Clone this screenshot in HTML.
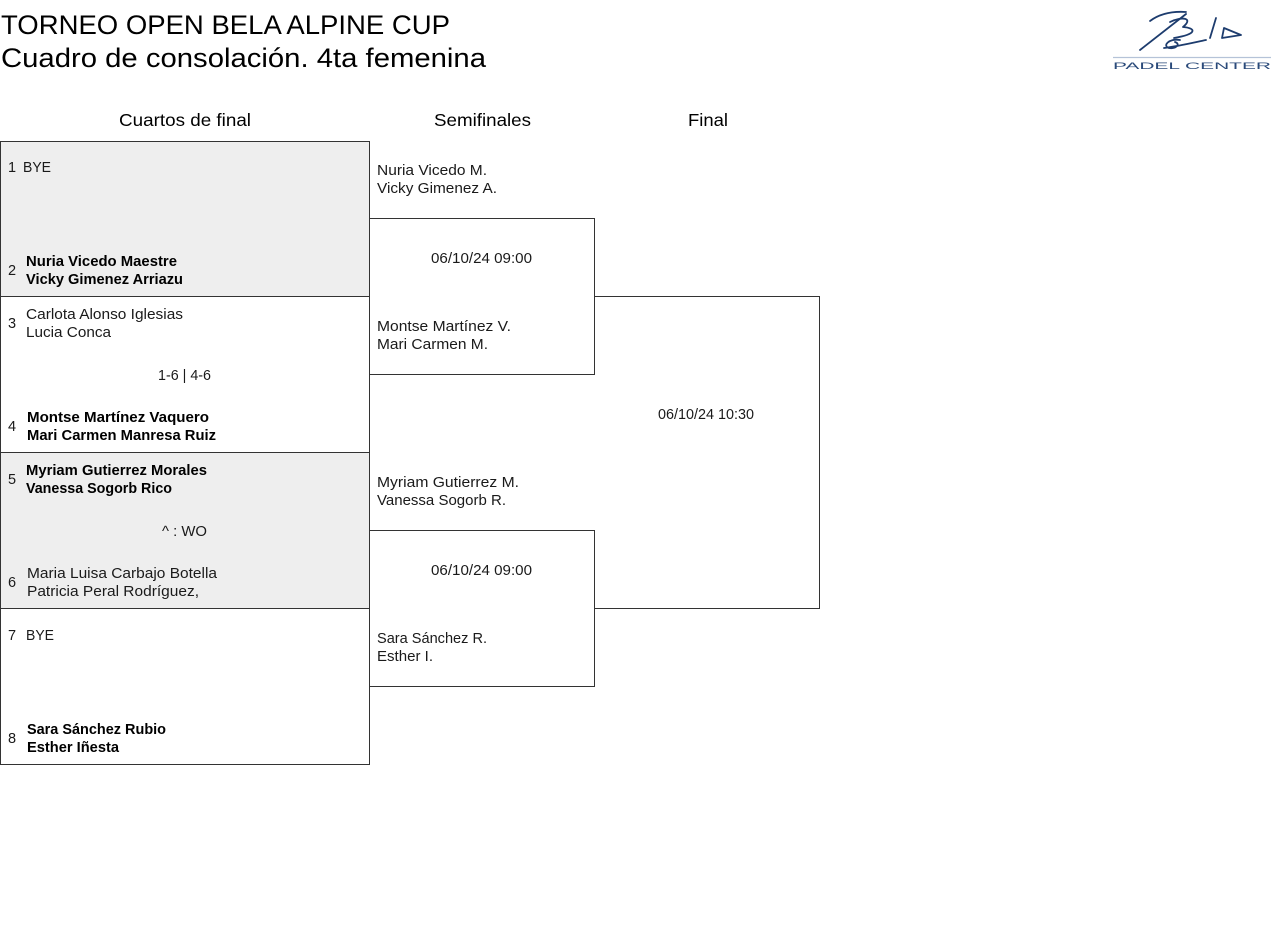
<!DOCTYPE html>
<html>
<head>
<meta charset="utf-8">
<style>
  html,body{margin:0;padding:0;background:#fff;}
  svg{display:block;}
  text{font-family:"Liberation Sans", sans-serif;}
  .n{font-size:14.5px;fill:#1a1a1a;}
  .b{font-size:14.5px;fill:#000;font-weight:bold;}
  .h{font-size:17.5px;fill:#000;}
  .t{font-size:26.5px;fill:#000;}
</style>
</head>
<body>
<svg width="1280" height="949" viewBox="0 0 1280 949" xmlns="http://www.w3.org/2000/svg">
  <rect x="0" y="0" width="1280" height="949" fill="#fff"/>

  <!-- Title -->
  <text class="t" x="1" y="34" textLength="449" lengthAdjust="spacingAndGlyphs">TORNEO OPEN BELA ALPINE CUP</text>
  <text class="t" x="1" y="67" textLength="485" lengthAdjust="spacingAndGlyphs">Cuadro de consolación. 4ta femenina</text>

  <!-- Logo -->
  <g fill="none" stroke="#1d3c6e" stroke-width="1.8" stroke-linecap="round" stroke-linejoin="round">
    <path d="M1150 21 C1158 15, 1170 11, 1186 12"/>
    <path d="M1186 14 L1140 50"/>
    <path d="M1170 22 C1182 16, 1194 18, 1183 27 C1196 28, 1198 34, 1174 38"/>
    <path d="M1180 40 C1169 38, 1162 46, 1169 48 C1176 49, 1181 44, 1175 42 M1164 48 C1180 46, 1196 42, 1206 40"/>
    <path d="M1216 18 L1210 38"/>
    <path d="M1224 28 L1222 38 L1241 35 Z"/>
  </g>
  <line x1="1113" y1="57.5" x2="1271" y2="57.5" stroke="#b5c3d8" stroke-width="1.2"/>
  <text x="1113" y="69" font-size="9" fill="#2a4a7a" textLength="158" lengthAdjust="spacingAndGlyphs">PADEL CENTER</text>

  <!-- Headers -->
  <text class="h" x="119" y="126" textLength="132" lengthAdjust="spacingAndGlyphs">Cuartos de final</text>
  <text class="h" x="434" y="126" textLength="97" lengthAdjust="spacingAndGlyphs">Semifinales</text>
  <text class="h" x="688" y="126" textLength="40" lengthAdjust="spacingAndGlyphs">Final</text>

  <!-- QF boxes -->
  <rect x="0.5" y="141.5" width="369" height="155" fill="#eeeeee" stroke="#333" stroke-width="1"/>
  <rect x="0.5" y="296.5" width="369" height="156" fill="#ffffff" stroke="#333" stroke-width="1"/>
  <rect x="0.5" y="452.5" width="369" height="156" fill="#eeeeee" stroke="#333" stroke-width="1"/>
  <rect x="0.5" y="608.5" width="369" height="156" fill="#ffffff" stroke="#333" stroke-width="1"/>

  <!-- SF boxes -->
  <path d="M369.5 218.5 H594.5 V374.5 H369.5" fill="none" stroke="#333" stroke-width="1"/>
  <path d="M369.5 530.5 H594.5 V686.5 H369.5" fill="none" stroke="#333" stroke-width="1"/>
  <!-- Final box -->
  <path d="M594.5 296.5 H819.5 V608.5 H594.5" fill="none" stroke="#333" stroke-width="1"/>

  <!-- QF match 1 -->
  <text class="n" x="8" y="172">1</text>
  <text class="n" x="23" y="172" textLength="28" lengthAdjust="spacingAndGlyphs">BYE</text>
  <text class="n" x="8" y="275">2</text>
  <text class="b" x="26" y="266" textLength="151" lengthAdjust="spacingAndGlyphs">Nuria Vicedo Maestre</text>
  <text class="b" x="26" y="284" textLength="157" lengthAdjust="spacingAndGlyphs">Vicky Gimenez Arriazu</text>

  <!-- QF match 2 -->
  <text class="n" x="8" y="328">3</text>
  <text class="n" x="26" y="319" textLength="157" lengthAdjust="spacingAndGlyphs">Carlota Alonso Iglesias</text>
  <text class="n" x="26" y="337" textLength="85" lengthAdjust="spacingAndGlyphs">Lucia Conca</text>
  <text class="n" x="158" y="380" textLength="53" lengthAdjust="spacingAndGlyphs">1-6 | 4-6</text>
  <text class="n" x="8" y="431">4</text>
  <text class="b" x="27" y="422" textLength="182" lengthAdjust="spacingAndGlyphs">Montse Martínez Vaquero</text>
  <text class="b" x="27" y="440" textLength="189" lengthAdjust="spacingAndGlyphs">Mari Carmen Manresa Ruiz</text>

  <!-- QF match 3 -->
  <text class="n" x="8" y="484">5</text>
  <text class="b" x="26" y="475" textLength="181" lengthAdjust="spacingAndGlyphs">Myriam Gutierrez Morales</text>
  <text class="b" x="26" y="493" textLength="146" lengthAdjust="spacingAndGlyphs">Vanessa Sogorb Rico</text>
  <text class="n" x="162" y="536" textLength="45" lengthAdjust="spacingAndGlyphs">^ : WO</text>
  <text class="n" x="8" y="587">6</text>
  <text class="n" x="27" y="578" textLength="190" lengthAdjust="spacingAndGlyphs">Maria Luisa Carbajo Botella</text>
  <text class="n" x="27" y="596" textLength="172" lengthAdjust="spacingAndGlyphs">Patricia Peral Rodríguez,</text>

  <!-- QF match 4 -->
  <text class="n" x="8" y="640">7</text>
  <text class="n" x="26" y="640" textLength="28" lengthAdjust="spacingAndGlyphs">BYE</text>
  <text class="n" x="8" y="743">8</text>
  <text class="b" x="27" y="734" textLength="139" lengthAdjust="spacingAndGlyphs">Sara Sánchez Rubio</text>
  <text class="b" x="27" y="752" textLength="92" lengthAdjust="spacingAndGlyphs">Esther Iñesta</text>

  <!-- SF -->
  <text class="n" x="377" y="175" textLength="110" lengthAdjust="spacingAndGlyphs">Nuria Vicedo M.</text>
  <text class="n" x="377" y="193" textLength="120" lengthAdjust="spacingAndGlyphs">Vicky Gimenez A.</text>
  <text class="n" x="431" y="263" textLength="101" lengthAdjust="spacingAndGlyphs">06/10/24 09:00</text>
  <text class="n" x="377" y="331" textLength="134" lengthAdjust="spacingAndGlyphs">Montse Martínez V.</text>
  <text class="n" x="377" y="349" textLength="111" lengthAdjust="spacingAndGlyphs">Mari Carmen M.</text>

  <text class="n" x="377" y="487" textLength="142" lengthAdjust="spacingAndGlyphs">Myriam Gutierrez M.</text>
  <text class="n" x="377" y="505" textLength="129" lengthAdjust="spacingAndGlyphs">Vanessa Sogorb R.</text>
  <text class="n" x="431" y="575" textLength="101" lengthAdjust="spacingAndGlyphs">06/10/24 09:00</text>
  <text class="n" x="377" y="643" textLength="110" lengthAdjust="spacingAndGlyphs">Sara Sánchez R.</text>
  <text class="n" x="377" y="661" textLength="56" lengthAdjust="spacingAndGlyphs">Esther I.</text>

  <!-- Final -->
  <text class="n" x="658" y="419" textLength="96" lengthAdjust="spacingAndGlyphs">06/10/24 10:30</text>
</svg>
</body>
</html>
